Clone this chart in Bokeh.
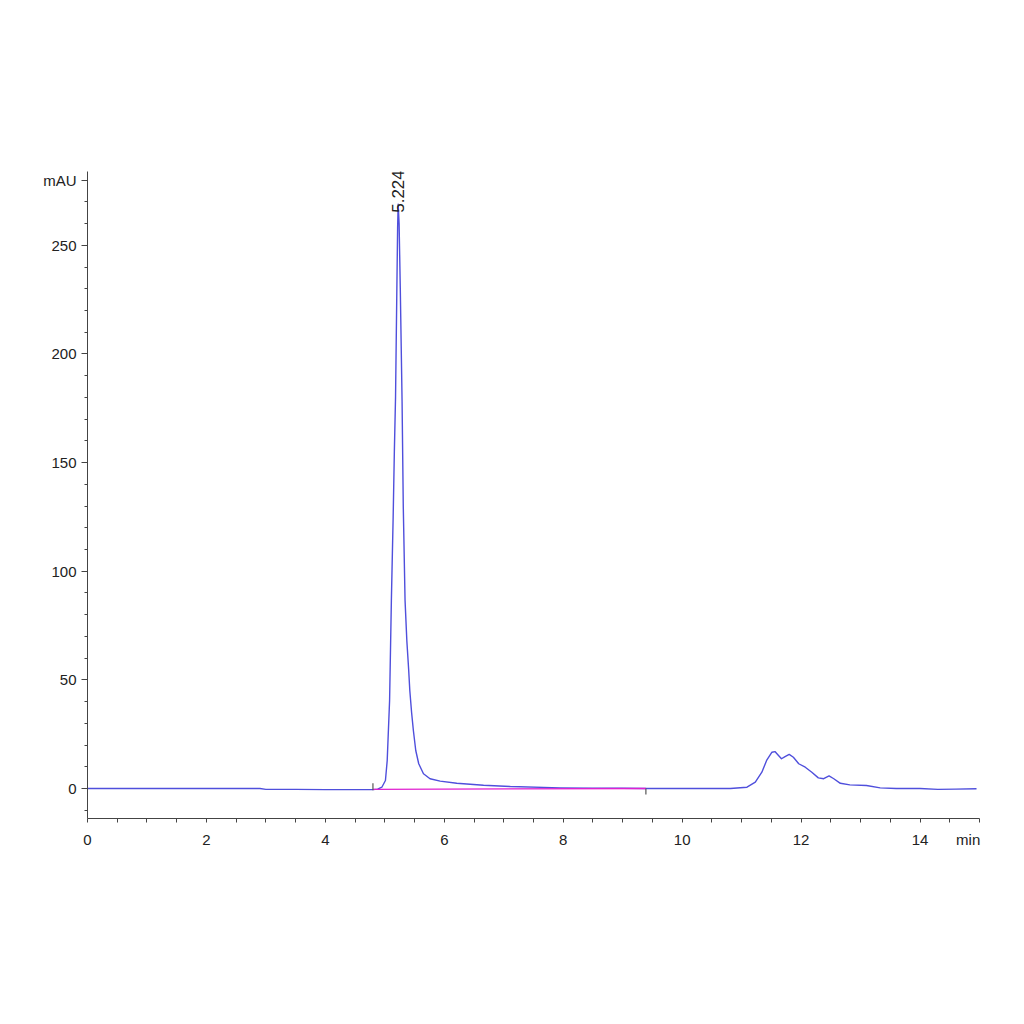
import numpy as np
from bokeh.plotting import figure
from bokeh.models import FixedTicker, Label, Range1d
from bokeh.embed import file_html
from bokeh.resources import INLINE

# ---- data ----
time_min = [0.0, 1.0, 2.0, 2.9, 3.0, 3.5, 4.0, 4.5, 4.8, 4.88, 4.95, 5.01, 5.04, 5.08,
            5.11, 5.14, 5.16, 5.18, 5.20, 5.215, 5.224, 5.24, 5.26, 5.29, 5.31, 5.34,
            5.37, 5.40, 5.42, 5.45, 5.48, 5.52, 5.57, 5.65, 5.76, 5.93, 6.21, 6.66,
            7.11, 7.95, 8.5, 9.0, 9.4, 10.0, 10.5, 10.81, 11.09, 11.23, 11.34, 11.42,
            11.51, 11.56, 11.62, 11.67, 11.73, 11.80, 11.87, 11.96, 12.07, 12.18, 12.29,
            12.38, 12.47, 12.55, 12.66, 12.82, 13.10, 13.33, 13.6, 14.0, 14.3, 14.6, 14.95]
signal_mau = [0.0, 0.0, 0.0, 0.0, -0.4, -0.4, -0.5, -0.5, -0.5, -0.3, 0.6, 3.7, 12.9, 40.5,
              86.6, 125.0, 155.0, 180.0, 225.0, 258.0, 269.0, 260.0, 230.0, 178.0, 130.0, 86.6,
              68.0, 55.0, 45.1, 35.0, 26.7, 17.5, 11.4, 6.8, 4.5, 3.4, 2.4, 1.5,
              0.9, 0.3, 0.2, 0.1, 0.0, 0.0, 0.0, 0.0, 0.6, 2.9, 7.5, 12.9,
              16.7, 17.0, 15.2, 13.7, 14.7, 15.7, 14.4, 11.4, 9.8, 7.5, 4.9,
              4.5, 5.8, 4.5, 2.4, 1.7, 1.4, 0.3, 0.0, 0.0, -0.4, -0.3, -0.1]

baseline_x = [4.80, 9.39]
baseline_y = [-0.4, 0.0]

marker_x = [4.80, 9.39]
marker_y0 = [-0.8, 0.0]
marker_y1 = [2.4, -2.7]

peak_time = 5.224
peak_label = "5.224"

x_major = [0, 2, 4, 6, 8, 10, 12, 14]
x_unit_pos = 14.81
x_unit = "min"
y_major = [0, 50, 100, 150, 200, 250, 280]
y_unit_pos = 280
y_unit = "mAU"

FONT = "'Liberation Sans Narrow', 'Liberation Sans', Arial, sans-serif"

p = figure(width=1000, height=1000, output_backend="svg", toolbar_location=None,
           x_range=Range1d(0, 15), y_range=Range1d(-13.8, 284),
           min_border_left=87, min_border_right=21, min_border_top=171,
           min_border_bottom=182)
p.outline_line_color = None
p.xgrid.visible = False
p.ygrid.visible = False
p.background_fill_color = "white"
p.border_fill_color = "white"

# chromatogram trace
p.line(time_min, signal_mau, line_color="#4f4fdc", line_width=1.4, line_join="round")
# integration baseline
p.line(baseline_x, baseline_y, line_color="#e020d0", line_width=1.3)
# integration start/end markers
p.segment(x0=marker_x, y0=marker_y0, x1=marker_x, y1=marker_y1,
          line_color="#555555", line_width=1.2)

# axes
xa = p.xaxis[0]
xa.ticker = FixedTicker(ticks=x_major + [x_unit_pos],
                        minor_ticks=[i * 0.5 for i in range(31)])
xa.major_label_overrides = {x_unit_pos: x_unit}
ya = p.yaxis[0]
ya.ticker = FixedTicker(ticks=y_major, minor_ticks=list(range(-10, 290, 10)))
ya.major_label_overrides = {y_unit_pos: y_unit}

for ax in (xa, ya):
    ax.axis_line_color = "#444444"
    ax.major_tick_line_color = "#444444"
    ax.minor_tick_line_color = "#444444"
    ax.major_tick_in = 0
    ax.minor_tick_in = 0
    ax.major_label_text_font = FONT
    ax.major_label_text_font_size = "15px"
    ax.major_label_text_color = "#222222"
# x: tick marks drawn by the minor ticker only (so the unit label has no tick)
xa.major_tick_out = 0
xa.minor_tick_out = 4
xa.major_label_standoff = 8
ya.major_tick_out = 6
ya.minor_tick_out = 3
ya.major_label_standoff = 5

p.add_layout(Label(x=peak_time, y=265, text=peak_label, angle=np.pi / 2,
                   text_align="left", text_baseline="middle",
                   text_font=FONT, text_font_size="17px", text_color="#222222"))

open("out.html", "w").write(file_html(p, INLINE))
